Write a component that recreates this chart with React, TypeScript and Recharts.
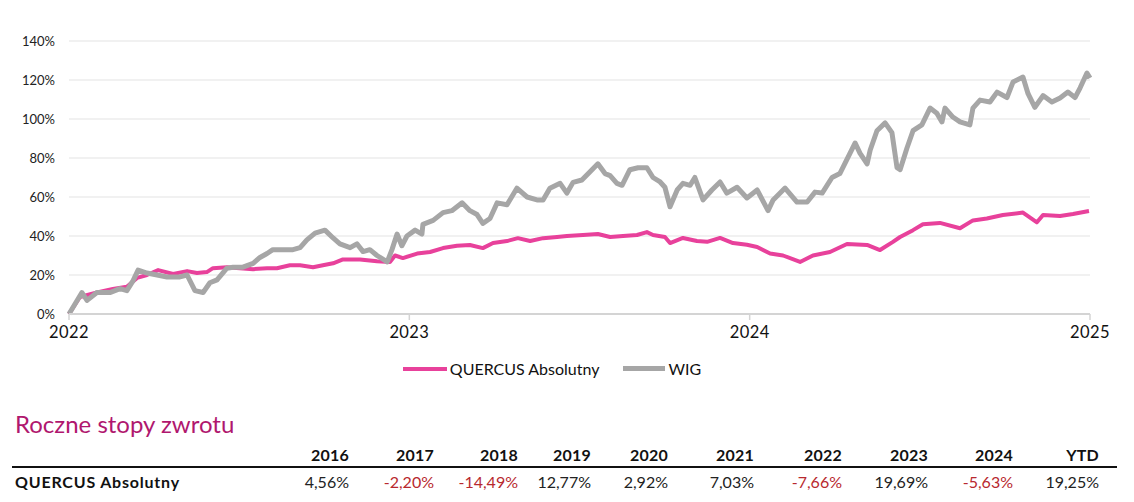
import { LineChart, Line, XAxis, YAxis, CartesianGrid } from 'recharts';

// lata od 2022-01-01
const yearTicks = [0, 1, 2, 3];
const yearLabels = ['2022', '2023', '2024', '2025'];
const percentTicks = [0, 20, 40, 60, 80, 100, 120, 140];

const quercusT = [
  0, 0.032, 0.082, 0.129, 0.17, 0.2, 0.229, 0.262, 0.306, 0.347, 0.376, 0.405, 0.423, 0.464, 0.502,
  0.541, 0.582, 0.611, 0.649, 0.679, 0.717, 0.746, 0.776, 0.805, 0.855, 0.905, 0.943, 0.958, 0.981,
  1.023, 1.061, 1.099, 1.14, 1.178, 1.216, 1.246, 1.287, 1.319, 1.355, 1.393, 1.434, 1.463, 1.51,
  1.554, 1.59, 1.628, 1.669, 1.698, 1.716, 1.751, 1.766, 1.804, 1.845, 1.875, 1.913, 1.951, 1.992,
  2.022, 2.06, 2.098, 2.148, 2.186, 2.236, 2.286, 2.345, 2.383, 2.421, 2.442, 2.48, 2.509, 2.559,
  2.618, 2.656, 2.697, 2.744, 2.803, 2.844, 2.862, 2.912, 2.95, 2.997,
];
const quercusV = [
  0, 8.7, 11, 12.8, 14, 18.5, 20, 22.5, 20.5, 22, 21, 21.5, 23.5, 24, 23.5,
  23, 23.5, 23.5, 25, 25, 24, 25, 26, 28, 28, 27, 26.7, 30, 28.7,
  31, 31.8, 33.8, 35, 35.4, 33.8, 36.4, 37.4, 38.9, 37.4, 38.9, 39.5, 40, 40.5,
  41, 39.5, 40, 40.5, 42, 40.5, 39.5, 36.4, 39, 37.4, 37, 39, 36.4, 35.5,
  34.4, 31, 30, 26.7, 30, 31.8, 35.9, 35.4, 32.8, 37, 39.5, 43, 46, 46.7,
  44, 48, 49, 50.8, 52, 47, 50.8, 50.3, 51.3, 52.8,
];

const wigT = [
  0, 0.038, 0.053, 0.082, 0.12, 0.15, 0.17, 0.188, 0.203, 0.229, 0.259, 0.288, 0.326, 0.347, 0.37,
  0.394, 0.414, 0.435, 0.464, 0.482, 0.511, 0.541, 0.561, 0.582, 0.599, 0.629, 0.658, 0.679, 0.699,
  0.723, 0.752, 0.776, 0.796, 0.826, 0.846, 0.864, 0.884, 0.905, 0.935, 0.949, 0.964, 0.978, 0.993,
  1.017, 1.037, 1.04, 1.07, 1.099, 1.125, 1.155, 1.178, 1.199, 1.216, 1.237, 1.258, 1.287, 1.316,
  1.346, 1.375, 1.393, 1.413, 1.443, 1.463, 1.481, 1.507, 1.531, 1.554, 1.575, 1.59, 1.61, 1.625,
  1.648, 1.672, 1.698, 1.716, 1.737, 1.751, 1.766, 1.787, 1.804, 1.825, 1.839, 1.863, 1.889, 1.913,
  1.933, 1.963, 1.992, 2.022, 2.054, 2.069, 2.104, 2.139, 2.169, 2.192, 2.213, 2.242, 2.265, 2.295,
  2.31, 2.324, 2.345, 2.354, 2.374, 2.398, 2.418, 2.433, 2.442, 2.462, 2.48, 2.506, 2.53, 2.55,
  2.565, 2.574, 2.597, 2.618, 2.647, 2.656, 2.677, 2.706, 2.727, 2.756, 2.774, 2.803, 2.818, 2.838,
  2.862, 2.888, 2.912, 2.935, 2.956, 2.971, 2.991, 3,
];
const wigV = [
  0, 11, 7, 11, 11, 13, 12, 17, 22.5, 21, 20, 19, 19, 20, 12,
  11, 16, 17.5, 23.5, 24, 24, 26, 29, 31, 33, 33, 33, 34, 38,
  41.5, 43, 39, 36, 34, 36, 32, 33, 30, 26.7, 33, 41, 35, 40,
  43, 41, 46, 48, 52, 53, 57, 53, 51, 46.5, 49, 57, 56, 64.5,
  60, 58.5, 58.5, 64.5, 67, 62, 67.5, 68.7, 73, 77, 72, 71, 67, 66,
  74, 75, 75, 70, 67.7, 65, 55, 63.6, 67, 66, 70, 58.5, 63.6, 67.7,
  62, 65, 59.5, 63.6, 53, 58.5, 64.6, 57.4, 57.4, 62.5, 62, 70, 72, 82.5,
  87.7, 82.5, 77, 84, 94, 98, 93, 75, 74, 85, 94, 97, 105.6, 103,
  98.5, 105.6, 101, 98.5, 97, 105.6, 109.7, 108.7, 113.8, 111, 119, 121.5, 113, 106,
  112, 108.7, 110.8, 113.8, 111, 116, 123.6, 121,
];

const quercusData = quercusT.map((t, i) => ({ t, v: quercusV[i] }));
const wigData = wigT.map((t, i) => ({ t, v: wigV[i] }));

const tableYears = ['2016', '2017', '2018', '2019', '2020', '2021', '2022', '2023', '2024', 'YTD'];
const tableReturns = ['4,56%', '-2,20%', '-14,49%', '12,77%', '2,92%', '7,03%', '-7,66%', '19,69%', '-5,63%', '19,25%'];

const columnRight = [349, 434, 518, 591, 668, 754, 842, 928, 1013, 1099];

const PINK = '#e8419b';
const GREY = '#a6a6a6';
const RED = '#b8282e';
const FONT = 'Lato, "Open Sans", sans-serif';

export default function App() {
  return (
    <div style={{ position: 'absolute', left: 0, top: 0, width: 1134, height: 502, background: '#fff', fontFamily: FONT }}>
      <LineChart width={1134} height={345} margin={{ top: 41, right: 44, bottom: 0, left: 0 }}>
        <CartesianGrid vertical={false} stroke="#ececec" strokeWidth={1.5} />
        <XAxis
          type="number"
          dataKey="t"
          domain={[0, 3]}
          ticks={yearTicks}
          tickFormatter={(t) => yearLabels[t]}
          height={31}
          axisLine={{ stroke: '#d4d4d4', strokeWidth: 2 }}
          tickLine={{ stroke: '#d4d4d4', strokeWidth: 1.5 }}
          tickSize={6}
          tickMargin={6}
          tick={{ fill: '#111', fontSize: 16.5, fontFamily: FONT, letterSpacing: 0.4 }}
          allowDuplicatedCategory={false}
        />
        <YAxis
          type="number"
          domain={[0, 140]}
          ticks={percentTicks}
          tickFormatter={(v) => `${v}%`}
          width={69}
          axisLine={false}
          tickLine={false}
          tickMargin={8}
          tick={{ fill: '#222', fontSize: 13, fontFamily: FONT }}
        />
        <Line data={quercusData} dataKey="v" type="linear" stroke={PINK} strokeWidth={4} dot={false} isAnimationActive={false} strokeLinejoin="round" />
        <Line data={wigData} dataKey="v" type="linear" stroke={GREY} strokeWidth={5} dot={false} isAnimationActive={false} strokeLinejoin="round" />
      </LineChart>

      <div style={{ position: 'absolute', top: 359, left: 0, width: 1134, display: 'flex', justifyContent: 'center', alignItems: 'center', fontSize: 16, color: '#111' }}>
        <div style={{ display: 'flex', alignItems: 'center', marginLeft: -30 }}>
          <span style={{ display: 'inline-block', width: 44, height: 4, background: PINK, marginRight: 3 }} />
          <span>QUERCUS Absolutny</span>
          <span style={{ display: 'inline-block', width: 42, height: 5, background: GREY, marginLeft: 24, marginRight: 3 }} />
          <span>WIG</span>
        </div>
      </div>

      <div style={{ position: 'absolute', top: 409, left: 15, fontSize: 24, color: '#b0176e' }}>Roczne stopy zwrotu</div>

      {tableYears.map((y, i) => (
        <div key={y} style={{ position: 'absolute', top: 445, left: columnRight[i] - 90, width: 90, textAlign: 'right', fontSize: 16, fontWeight: 700, color: '#111', letterSpacing: 0.2 }}>
          {y}
        </div>
      ))}
      <div style={{ position: 'absolute', top: 466, left: 12, width: 1105, height: 1.5, background: '#111' }} />
      <div style={{ position: 'absolute', top: 472, left: 15, fontSize: 16, fontWeight: 700, color: '#111', letterSpacing: 0.8 }}>QUERCUS Absolutny</div>
      {tableReturns.map((r, i) => (
        <div key={i} style={{ position: 'absolute', top: 472, left: columnRight[i] - 90, width: 90, textAlign: 'right', fontSize: 16, color: r.startsWith('-') ? RED : '#222' }}>
          {r}
        </div>
      ))}
    </div>
  );
}
